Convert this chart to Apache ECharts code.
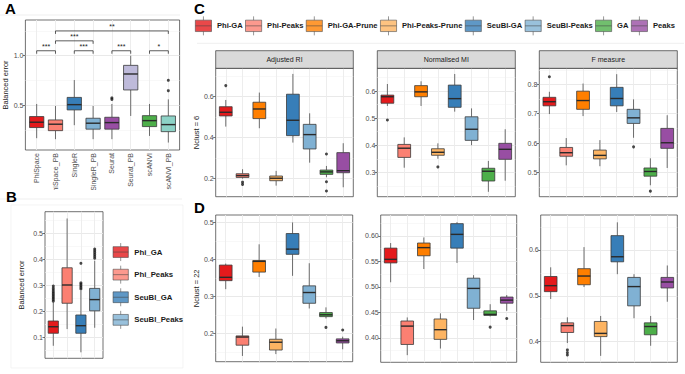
<!DOCTYPE html>
<html><head><meta charset="utf-8">
<script src="https://cdn.jsdelivr.net/npm/echarts@6/dist/echarts.min.js"></script>
<style>html,body{margin:0;padding:0;background:#fff}#c{width:685px;height:374px}</style>
</head><body><div id="c"></div>
<script>
// ================= DATA =================
// box rows: [lower whisker, Q1, median, Q3, upper whisker]
const catsA = ['PhiSpace','PhiSpace_PB','SingleR','SingleR_PB','Seurat','Seurat_PB','scANVI','scANVI_PB'];
const boxA = [
  [0.169,0.276,0.330,0.387,0.514],
  [0.159,0.245,0.310,0.353,0.494],
  [0.300,0.454,0.507,0.580,0.755],
  [0.159,0.260,0.320,0.370,0.494],
  [0.159,0.260,0.326,0.380,0.514],
  [0.393,0.655,0.816,0.903,1.000],
  [0.192,0.286,0.346,0.396,0.514],
  [0.125,0.235,0.306,0.393,0.560]
];
const outA = [[4,0.575],[4,0.560],[7,0.752],[7,0.648]];
const sigPairsA = [[0,1,1.05],[2,3,1.05],[4,5,1.05],[6,7,1.05],[1,3,1.15],[1,7,1.25]];
const sigLabelsA = ['***','***','***','*','***','**'];
const ticksA = [0.5,1.0];

const catsB = ['Phi_GA','Phi_Peaks','SeuBl_GA','SeuBl_Peaks'];
const boxB = [
  [0.069,0.117,0.142,0.164,0.235],
  [0.133,0.232,0.302,0.368,0.557],
  [0.044,0.117,0.146,0.187,0.280],
  [0.138,0.203,0.246,0.289,0.395]
];
const outB = [[0,0.240],[0,0.246],[0,0.252],[0,0.258],[0,0.264],[0,0.270],[0,0.276],[0,0.283],[0,0.290],[0,0.298],
  [2,0.385],[2,0.287],[2,0.293],[2,0.299],[2,0.305],[2,0.310],
  [3,0.405],[3,0.412],[3,0.419],[3,0.426],[3,0.433],[3,0.440]];
const ticksB = [0.1,0.2,0.3,0.4,0.5];

const catsCD = ['Phi-GA','Phi-Peaks','Phi-GA-Prune','Phi-Peaks-Prune','SeuBl-GA','SeuBl-Peaks','GA','Peaks'];
// Nclust = 6
const boxC_ARI = [
  [0.454,0.506,0.524,0.551,0.584],[0.200,0.206,0.215,0.224,0.246],[0.446,0.493,0.540,0.573,0.620],[0.166,0.190,0.202,0.213,0.238],
  [0.376,0.410,0.485,0.612,0.711],[0.278,0.345,0.415,0.465,0.519],[0.207,0.221,0.233,0.242,0.262],[0.158,0.229,0.239,0.327,0.373]];
const outC_ARI = [[0,0.654],[1,0.183],[1,0.172],[6,0.320],[6,0.185],[6,0.140]];
const boxC_NMI = [
  [0.545,0.555,0.579,0.585,0.626],[0.317,0.355,0.389,0.403,0.429],[0.545,0.579,0.597,0.620,0.636],[0.350,0.363,0.374,0.387,0.407],
  [0.524,0.540,0.572,0.622,0.663],[0.400,0.418,0.459,0.505,0.536],[0.228,0.268,0.304,0.315,0.342],[0.269,0.348,0.385,0.407,0.459]];
const outC_NMI = [[0,0.493],[3,0.320]];
const boxC_F = [
  [0.699,0.727,0.741,0.756,0.775],[0.524,0.555,0.567,0.585,0.617],[0.692,0.715,0.745,0.777,0.803],[0.521,0.546,0.558,0.576,0.610],
  [0.706,0.727,0.752,0.790,0.835],[0.618,0.667,0.686,0.715,0.749],[0.456,0.487,0.503,0.515,0.548],[0.515,0.582,0.601,0.650,0.695]];
const outC_F = [[0,0.826],[5,0.587],[6,0.436]];
// Nclust = 22
const boxD_ARI = [
  [0.320,0.343,0.352,0.385,0.389],[0.140,0.169,0.191,0.194,0.219],[0.353,0.366,0.395,0.397,0.441],[0.145,0.156,0.177,0.185,0.214],
  [0.356,0.414,0.428,0.470,0.500],[0.268,0.282,0.311,0.329,0.390],[0.241,0.246,0.251,0.257,0.271],[0.158,0.175,0.181,0.186,0.192]];
const outD_ARI = [[6,0.217],[7,0.210]];
const boxD_NMI = [
  [0.509,0.547,0.554,0.576,0.586],[0.366,0.387,0.423,0.433,0.440],[0.535,0.561,0.577,0.586,0.597],[0.379,0.397,0.416,0.437,0.448],
  [0.547,0.576,0.603,0.624,0.627],[0.435,0.458,0.497,0.517,0.523],[0.442,0.444,0.446,0.453,0.466],[0.453,0.468,0.474,0.480,0.484]];
const outD_NMI = [[6,0.421],[7,0.438]];
const boxD_F = [
  [0.493,0.509,0.522,0.542,0.562],[0.397,0.420,0.435,0.441,0.453],[0.519,0.524,0.543,0.559,0.606],[0.369,0.411,0.418,0.444,0.456],
  [0.547,0.574,0.585,0.631,0.660],[0.451,0.478,0.520,0.540,0.547],[0.391,0.415,0.433,0.441,0.456],[0.487,0.517,0.530,0.540,0.566]];
const outD_F = [[1,0.382],[1,0.376],[1,0.371]];

const stripTitles = ['Adjusted RI','Normalised MI','F measure'];

// ================= STYLE =================
const FONT = '"Liberation Sans", Arial, Helvetica, sans-serif';
const colA = ['#E41A1C','#FB8072','#377EB8','#80B1D3','#984EA3','#BEBADA','#4DAF4A','#8DD3C7'];
const colB = ['#E41A1C','#FB8072','#377EB8','#80B1D3'];
const colCD = ['#E41A1C','#FB8072','#FF7F00','#FDB462','#377EB8','#80B1D3','#4DAF4A','#984EA3'];

const grids = [], xAxes = [], yAxes = [], series = [], graphics = [];

function minorsOf(majors, min, max) {
  const step = majors[1] - majors[0];
  const out = [];
  for (let k = -2; k < majors.length + 2; k++) {
    const v = +(majors[0] + step * (k + 0.5)).toFixed(6);
    if (v > min && v < max) out.push(v);
  }
  return out;
}

function boxRenderer(colors, bw) {
  return function (params, api) {
    const i = api.value(0);
    const pLo = api.coord([i, api.value(1)]), pQ1 = api.coord([i, api.value(2)]),
          pMd = api.coord([i, api.value(3)]), pQ3 = api.coord([i, api.value(4)]), pHi = api.coord([i, api.value(5)]);
    const x = pMd[0];
    const w = api.size([1, 0])[0] * bw;
    const ws = {stroke: '#4a4a4a', lineWidth: 0.8};
    return {type: 'group', children: [
      {type: 'line', shape: {x1: x, y1: pHi[1], x2: x, y2: pQ3[1]}, style: ws},
      {type: 'line', shape: {x1: x, y1: pQ1[1], x2: x, y2: pLo[1]}, style: ws},
      {type: 'rect', shape: {x: x - w / 2, y: pQ3[1], width: w, height: pQ1[1] - pQ3[1]},
        style: {fill: colors[i], stroke: '#3a3a3a', lineWidth: 0.8}},
      {type: 'line', shape: {x1: x - w / 2, y1: pMd[1], x2: x + w / 2, y2: pMd[1]}, style: {stroke: '#2a2a2a', lineWidth: 1.4}}
    ]};
  };
}

function panel(p) {
  const gi = grids.length;
  const n = p.cats.length;
  const z = p.z || 0;
  grids.push({left: p.x, top: p.y, width: p.w, height: p.h, show: true, backgroundColor: '#fff',
    borderColor: '#333', borderWidth: 0.7, z: z});
  const idx = p.cats.map((_, i) => i);
  xAxes.push({gridIndex: gi, type: 'value', min: -0.6, max: n - 0.4, z: z,
    axisLine: {show: false}, axisTick: {show: false, customValues: idx},
    axisLabel: p.xLabels ? {show: true, customValues: idx, rotate: 90, formatter: v => p.cats[Math.round(v)],
      fontSize: 7, color: '#4d4d4d', fontFamily: FONT, margin: 3} : {show: false},
    splitLine: {show: true, lineStyle: {color: '#ebebeb', width: 0.9}}});
  const minors = minorsOf(p.majors, p.min, p.max);
  yAxes.push({gridIndex: gi, type: 'value', min: p.min, max: p.max, position: 'left', z: z,
    axisLine: {show: false}, axisTick: {show: false, customValues: minors}, axisLabel: {show: false},
    splitLine: {show: true, lineStyle: {color: '#f3f3f3', width: 0.6}}});
  const yAx = yAxes.length;
  yAxes.push({gridIndex: gi, type: 'value', min: p.min, max: p.max, position: 'left', z: z,
    axisLine: {show: false},
    axisTick: {show: true, length: 2.5, customValues: p.majors, lineStyle: {color: '#333', width: 0.7}},
    axisLabel: {show: true, customValues: p.majors, formatter: v => (+v).toFixed(p.dec || 1),
      fontSize: 7, color: '#4d4d4d', fontFamily: FONT, margin: 2},
    splitLine: {show: true, lineStyle: {color: '#e6e6e6', width: 0.9}},
    name: p.yName || '', nameLocation: 'middle', nameGap: p.nameGap || 15,
    nameTextStyle: {fontSize: 7.5, color: '#1a1a1a', fontFamily: FONT}});
  series.push({type: 'custom', xAxisIndex: gi, yAxisIndex: yAx, z: z + 2, silent: true,
    encode: {x: 0, y: [1, 2, 3, 4, 5]},
    data: p.box.map((b, i) => [i].concat(b)), renderItem: boxRenderer(p.colors, p.bw || 0.76)});
  if (p.out && p.out.length) {
    series.push({type: 'scatter', xAxisIndex: gi, yAxisIndex: yAx, z: z + 3, silent: true,
      data: p.out, symbolSize: 3, itemStyle: {color: '#1a1a1a'}});
  }
  if (p.legendNames) {
    p.legendNames.forEach((nm, i) => series.push({type: 'scatter', name: nm, xAxisIndex: gi, yAxisIndex: yAx,
      data: [], itemStyle: {color: p.colors[i]}}));
  }
  return {gi: gi, yAx: yAx};
}

// ---- Panel A ----
const pa = panel({x: 25.4, y: 20, w: 154.2, h: 130, min: 0.05, max: 1.36, majors: ticksA, dec: 1,
  cats: catsA, box: boxA, out: outA, colors: colA, xLabels: true, yName: 'Balanced error', nameGap: 14});
series.push({type: 'custom', xAxisIndex: pa.gi, yAxisIndex: pa.yAx, z: 4, silent: true,
  encode: {x: [0, 1], y: 2},
  data: sigPairsA,
  renderItem: function (params, api) {
    const x1 = api.value(0), x2 = api.value(1), y = api.value(2);
    const a = api.coord([x1, y - 0.03]), b = api.coord([x1, y]), c = api.coord([x2, y]), d = api.coord([x2, y - 0.03]);
    return {type: 'group', children: [
      {type: 'polyline', shape: {points: [a, b, c, d]}, style: {stroke: '#333', lineWidth: 0.8, fill: 'none'}},
      {type: 'text', x: (b[0] + c[0]) / 2, y: b[1] - 0.5,
        style: {text: sigLabelsA[params.dataIndex], align: 'center', verticalAlign: 'bottom',
          fontSize: 7, fontFamily: FONT, fill: '#1a1a1a'}}
    ]};
  }});

// ---- Panel B ----
panel({x: 45, y: 211.7, w: 58, h: 146.6, min: 0.021, max: 0.583, majors: ticksB, dec: 1,
  cats: catsB, box: boxB, out: outB, colors: colB, yName: 'Balanced error', nameGap: 20, z: 6,
  legendNames: catsB, bw: 0.74});

// ---- Panel C ----
const topC = 68.3, hC = 128.4;
panel({x: 215.7, y: topC, w: 137.6, h: hC, min: 0.112, max: 0.7385, majors: [0.2, 0.4, 0.6], dec: 1,
  cats: catsCD, box: boxC_ARI, out: outC_ARI, colors: colCD, yName: 'Nclust = 6', nameGap: 15, legendNames: catsCD});
panel({x: 377.3, y: topC, w: 138, h: hC, min: 0.21, max: 0.684, majors: [0.3, 0.4, 0.5, 0.6], dec: 1,
  cats: catsCD, box: boxC_NMI, out: outC_NMI, colors: colCD});
panel({x: 539.3, y: topC, w: 138, h: hC, min: 0.417, max: 0.855, majors: [0.5, 0.6, 0.7, 0.8], dec: 1,
  cats: catsCD, box: boxC_F, out: outC_F, colors: colCD});

// ---- Panel D ----
panel({x: 215.7, y: 215, w: 137, h: 146.7, min: 0.1245, max: 0.52, majors: [0.2, 0.3, 0.4, 0.5], dec: 1,
  cats: catsCD, box: boxD_ARI, out: outD_ARI, colors: colCD, yName: 'Nclust = 22', nameGap: 15});
panel({x: 380.7, y: 215, w: 136, h: 147.3, min: 0.352, max: 0.641, majors: [0.40, 0.45, 0.50, 0.55, 0.60], dec: 2,
  cats: catsCD, box: boxD_NMI, out: outD_NMI, colors: colCD});
panel({x: 540.7, y: 215, w: 136.6, h: 147.3, min: 0.355, max: 0.676, majors: [0.4, 0.5, 0.6], dec: 1,
  cats: catsCD, box: boxD_F, out: outD_F, colors: colCD});

// ---- strips ----
[[215.7, 137.6], [377.3, 138], [539.3, 138]].forEach((s, k) => {
  graphics.push({type: 'rect', shape: {x: s[0], y: 50.7, width: s[1], height: 17.6},
    style: {fill: '#d9d9d9', stroke: '#333', lineWidth: 0.7}, z: 3});
  graphics.push({type: 'text', x: s[0] + s[1] / 2, y: 59.5, z: 4,
    style: {text: stripTitles[k], align: 'center', verticalAlign: 'middle', fontSize: 7, fontFamily: FONT, fill: '#1a1a1a'}});
});

// ---- region backgrounds / separators ----
graphics.push({type: 'rect', shape: {x: 0, y: 190, width: 188, height: 184}, style: {fill: '#fff'}, z: 5});
graphics.push({type: 'rect', shape: {x: 11, y: 205, width: 172, height: 163}, style: {fill: 'none', stroke: '#ececec', lineWidth: 0.6}, z: 5});
graphics.push({type: 'line', shape: {x1: 0, y1: 199, x2: 182, y2: 199}, style: {stroke: '#e4e4e4', lineWidth: 0.6}, z: 5});
graphics.push({type: 'line', shape: {x1: 0, y1: 15, x2: 180, y2: 15}, style: {stroke: '#e4e4e4', lineWidth: 0.6}, z: 1});
graphics.push({type: 'line', shape: {x1: 197, y1: 43.3, x2: 684, y2: 43.3}, style: {stroke: '#e4e4e4', lineWidth: 0.6}, z: 1});

// ---- panel letters ----
[['A', 5, 1], ['B', 6, 189], ['C', 194, 1], ['D', 194, 200]].forEach(l => {
  graphics.push({type: 'text', x: l[1], y: l[2], z: 8,
    style: {text: l[0], fontSize: 15, fontWeight: 'bold', fontFamily: FONT, fill: '#000', verticalAlign: 'top'}});
});

const ICON = 'path://M0,4h17v12h-17z M0,10h17 M8.5,0v4 M8.5,16v4';
const chart = echarts.init(document.getElementById('c'), null, {renderer: 'svg', width: 685, height: 374});
chart.setOption({
  animation: false,
  backgroundColor: '#fff',
  textStyle: {fontFamily: FONT},
  grid: grids, xAxis: xAxes, yAxis: yAxes, series: series,
  graphic: {elements: graphics},
  legend: [
    {data: catsCD, orient: 'horizontal', left: 195, top: 16, itemWidth: 17, itemHeight: 19, itemGap: 2.5,
      icon: ICON, selectedMode: false, padding: 0,
      itemStyle: {borderColor: '#444', borderWidth: 0.7},
      textStyle: {fontSize: 7.6, fontWeight: 'bold', color: '#1a1a1a', fontFamily: FONT}},
    {data: catsB, orient: 'vertical', left: 112.7, top: 242.7, itemWidth: 17, itemHeight: 18, itemGap: 3.9,
      icon: ICON, selectedMode: false, padding: 0, z: 8,
      itemStyle: {borderColor: '#444', borderWidth: 0.7},
      textStyle: {fontSize: 7.8, fontWeight: 'bold', color: '#1a1a1a', fontFamily: FONT}}
  ]
});
</script></body></html>
